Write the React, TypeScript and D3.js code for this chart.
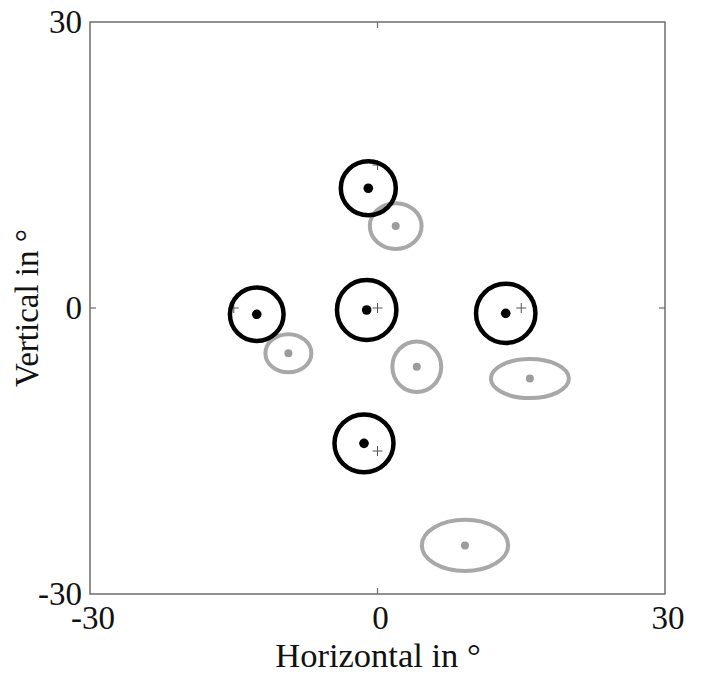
import * as d3 from "d3";

// targets (+ markers), degrees
const targetX = [0, -15, 0, 15, 0];
const targetY = [15, 0, 0, 0, -15];

// black responses: centre and ellipse radii (deg)
const blackX = [-0.96, -12.6, -1.13, 13.38, -1.41];
const blackY = [12.56, -0.66, -0.21, -0.56, -14.2];
const blackRx = [2.87, 2.8, 3.1, 3.1, 3.08];
const blackRy = [2.83, 2.8, 3.15, 3.1, 3.04];

// gray responses
const grayX = [1.9, -9.3, 4.1, 15.9, 9.13];
const grayY = [8.6, -4.75, -6.16, -7.4, -24.9];
const grayRx = [2.7, 2.4, 2.55, 4.07, 4.5];
const grayRy = [2.4, 2.0, 2.65, 2.05, 2.68];

const ticks = [-30, 0, 30];

const width = 704;
const height = 675;
const left = 90, right = 665, top = 22, bottom = 594;

export default function App() {
  const x = d3.scaleLinear().domain([-30, 30]).range([left, right]);
  const y = d3.scaleLinear().domain([-30, 30]).range([bottom, top]);
  const kx = x(1) - x(0);
  const ky = y(0) - y(1);
  const font = "'Liberation Serif', 'Times New Roman', serif";
  const axisColor = "#6e6e6e";

  return (
    <svg width={width} height={height} style={{ position: "absolute", left: 0, top: 0 }}>
      <rect x={left} y={top} width={right - left} height={bottom - top}
        fill="none" stroke={axisColor} strokeWidth={1.5} />
      {/* inward ticks at 0 */}
      <line x1={x(0)} x2={x(0)} y1={bottom} y2={bottom - 6} stroke={axisColor} strokeWidth={1.2} />
      <line x1={x(0)} x2={x(0)} y1={top} y2={top + 6} stroke={axisColor} strokeWidth={1.2} />
      <line x1={left} x2={left + 6} y1={y(0)} y2={y(0)} stroke={axisColor} strokeWidth={1.2} />
      <line x1={right} x2={right - 6} y1={y(0)} y2={y(0)} stroke={axisColor} strokeWidth={1.2} />

      {ticks.map((t) => (
        <text key={"xt" + t} x={x(t) + 3} y={629} textAnchor="middle" fontFamily={font} fontSize={33} fill="#111">
          {t}
        </text>
      ))}
      {ticks.map((t) => (
        <text key={"yt" + t} x={82} y={y(t)} dy="0.34em" textAnchor="end" fontFamily={font} fontSize={33} fill="#111">
          {t}
        </text>
      ))}

      <text x={378} y={667} textAnchor="middle" fontFamily={font} fontSize={34.5} fill="#111">
        Horizontal in °
      </text>
      <text transform={`translate(38, ${(top + bottom) / 2}) rotate(-90)`} textAnchor="middle"
        fontFamily={font} fontSize={33} fill="#111">
        Vertical in °
      </text>

      {/* gray ellipses */}
      {grayX.map((gx, i) => (
        <g key={"g" + i}>
          <ellipse cx={x(gx)} cy={y(grayY[i])} rx={grayRx[i] * kx} ry={grayRy[i] * ky}
            fill="none" stroke="#a8a8a8" strokeWidth={4} />
          <circle cx={x(gx)} cy={y(grayY[i])} r={4} fill="#9c9c9c" />
        </g>
      ))}

      {/* targets */}
      {targetX.map((tx, i) => (
        <g key={"t" + i} stroke="#555" strokeWidth={1}>
          <line x1={x(tx) - 5} x2={x(tx) + 5} y1={y(targetY[i])} y2={y(targetY[i])} />
          <line x1={x(tx)} x2={x(tx)} y1={y(targetY[i]) - 5} y2={y(targetY[i]) + 5} />
        </g>
      ))}

      {/* black ellipses */}
      {blackX.map((bx, i) => (
        <g key={"b" + i}>
          <ellipse cx={x(bx)} cy={y(blackY[i])} rx={blackRx[i] * kx} ry={blackRy[i] * ky}
            fill="none" stroke="#000" strokeWidth={4.5} />
          <circle cx={x(bx)} cy={y(blackY[i])} r={4.8} fill="#000" />
        </g>
      ))}
    </svg>
  );
}
